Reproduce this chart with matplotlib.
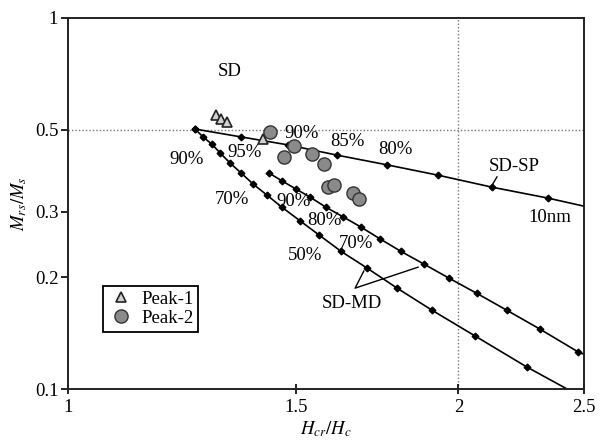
import matplotlib
matplotlib.use("Agg")
import matplotlib.pyplot as plt
from matplotlib.ticker import FixedLocator, FixedFormatter, NullLocator

plt.rcParams["font.family"] = ["Liberation Serif", "DejaVu Serif"]
plt.rcParams["mathtext.fontset"] = "stix"
plt.rcParams["font.size"] = 13.5

# Day plot data: Hcr/Hc vs Mrs/Ms
sdsp_x = [1.253, 1.360, 1.478, 1.612, 1.762, 1.929, 2.123, 2.345]
sdsp_y = [0.502, 0.478, 0.455, 0.427, 0.402, 0.377, 0.350, 0.327]
sdsp_end = (2.50, 0.311)

sdmd1_x = [1.253, 1.271, 1.291, 1.310, 1.333, 1.360, 1.389, 1.424, 1.462,
           1.510, 1.562, 1.624, 1.700, 1.794, 1.909, 2.060, 2.259]
sdmd1_y = [0.502, 0.478, 0.457, 0.433, 0.407, 0.382, 0.357, 0.333, 0.309,
           0.284, 0.260, 0.235, 0.212, 0.187, 0.163, 0.139, 0.1146]
sdmd1_end = (2.426, 0.100)

sdmd2_x = [1.429, 1.462, 1.499, 1.537, 1.581, 1.630, 1.683, 1.740, 1.806,
           1.882, 1.967, 2.067, 2.180, 2.312, 2.473]
sdmd2_y = [0.382, 0.364, 0.346, 0.329, 0.309, 0.291, 0.273, 0.254, 0.235,
           0.217, 0.199, 0.181, 0.163, 0.145, 0.126]
sdmd2_end = (2.50, 0.124)

peak1_x = [1.301, 1.312, 1.326, 1.414]
peak1_y = [0.548, 0.534, 0.524, 0.472]

peak2_x = [1.431, 1.494, 1.468, 1.542, 1.576, 1.587, 1.604, 1.659, 1.677]
peak2_y = [0.493, 0.452, 0.422, 0.430, 0.404, 0.350, 0.355, 0.338, 0.325]

xticks = [1, 1.5, 2, 2.5]
xtick_labels = ["1", "1.5", "2", "2.5"]
yticks = [0.1, 0.2, 0.3, 0.5, 1]
ytick_labels = ["0.1", "0.2", "0.3", "0.5", "1"]

fig = plt.figure(figsize=(6, 4.47), dpi=100)
ax = fig.add_axes([68 / 600, 1 - 389 / 447, 516 / 600, 371 / 447])
ax.set_xscale("log")
ax.set_yscale("log")
ax.set_xlim(1, 2.5)
ax.set_ylim(0.1, 1)

# reference lines
ax.axhline(0.5, color="#777777", ls=(0, (1, 1.5)), lw=1, zorder=1)
ax.axvline(2, color="#777777", ls=(0, (1, 1.5)), lw=1, zorder=1)

line_kw = dict(color="black", lw=1.2, zorder=2)
mk_kw = dict(ls="none", marker="D", ms=3.4, color="black", zorder=3)
for xs, ys, end in [(sdsp_x, sdsp_y, sdsp_end),
                    (sdmd1_x, sdmd1_y, sdmd1_end),
                    (sdmd2_x, sdmd2_y, sdmd2_end)]:
    ax.plot(xs + [end[0]], ys + [end[1]], **line_kw)
    ax.plot(xs, ys, **mk_kw)

ax.plot(peak1_x, peak1_y, ls="none", marker="^", ms=7, mfc="#d0d0d0",
        mec="#222222", mew=1.2, zorder=4, label="Peak-1")
ax.plot(peak2_x, peak2_y, ls="none", marker="o", ms=9.5, mfc="#8a8a8a",
        mec="#333333", mew=1.0, zorder=4, label="Peak-2")

# leader lines
ax.plot([2.142, 2.119], [0.373, 0.350], color="black", lw=1)
ax.plot([1.691, 1.665, 1.862], [0.208, 0.187, 0.213], color="black", lw=1)


def px(x, y):
    return ((x - 68) / 516, 1 - (y - 18) / 371)


labels = [("SD", 230, 72), ("90%", 187, 159), ("95%", 245, 152),
          ("90%", 302, 133), ("85%", 347, 141), ("80%", 395, 150),
          ("70%", 232, 199), ("90%", 294, 201), ("80%", 324, 220),
          ("70%", 356, 243), ("50%", 305, 255), ("SD-MD", 352, 303),
          ("SD-SP", 514, 166), ("10nm", 550, 218)]
for s, x, y in labels:
    ax.text(*px(x, y), s, transform=ax.transAxes, ha="center", va="center")

ax.xaxis.set_major_locator(FixedLocator(xticks))
ax.xaxis.set_major_formatter(FixedFormatter(xtick_labels))
ax.xaxis.set_minor_locator(NullLocator())
ax.yaxis.set_major_locator(FixedLocator(yticks))
ax.yaxis.set_major_formatter(FixedFormatter(ytick_labels))
ax.yaxis.set_minor_locator(NullLocator())
ax.tick_params(axis="x", direction="inout", length=7, width=1.2, pad=4)
ax.tick_params(axis="y", direction="out", length=5, width=1.2, pad=2)
for sp in ax.spines.values():
    sp.set_linewidth(1.4)
    sp.set_color("#222222")

ax.set_xlabel(r"$H_{cr}/H_c$", labelpad=2)
ax.set_ylabel(r"$M_{rs}/M_s$", labelpad=4)

leg = ax.legend(loc="upper left", bbox_to_anchor=px(103, 286), borderaxespad=0,
                fancybox=False, edgecolor="black", framealpha=1,
                handlelength=1.4, handletextpad=0.4, borderpad=0.25,
                labelspacing=0.1, fontsize=13.5)
leg.get_frame().set_linewidth(1.3)

fig.savefig("out.png", dpi=100)
